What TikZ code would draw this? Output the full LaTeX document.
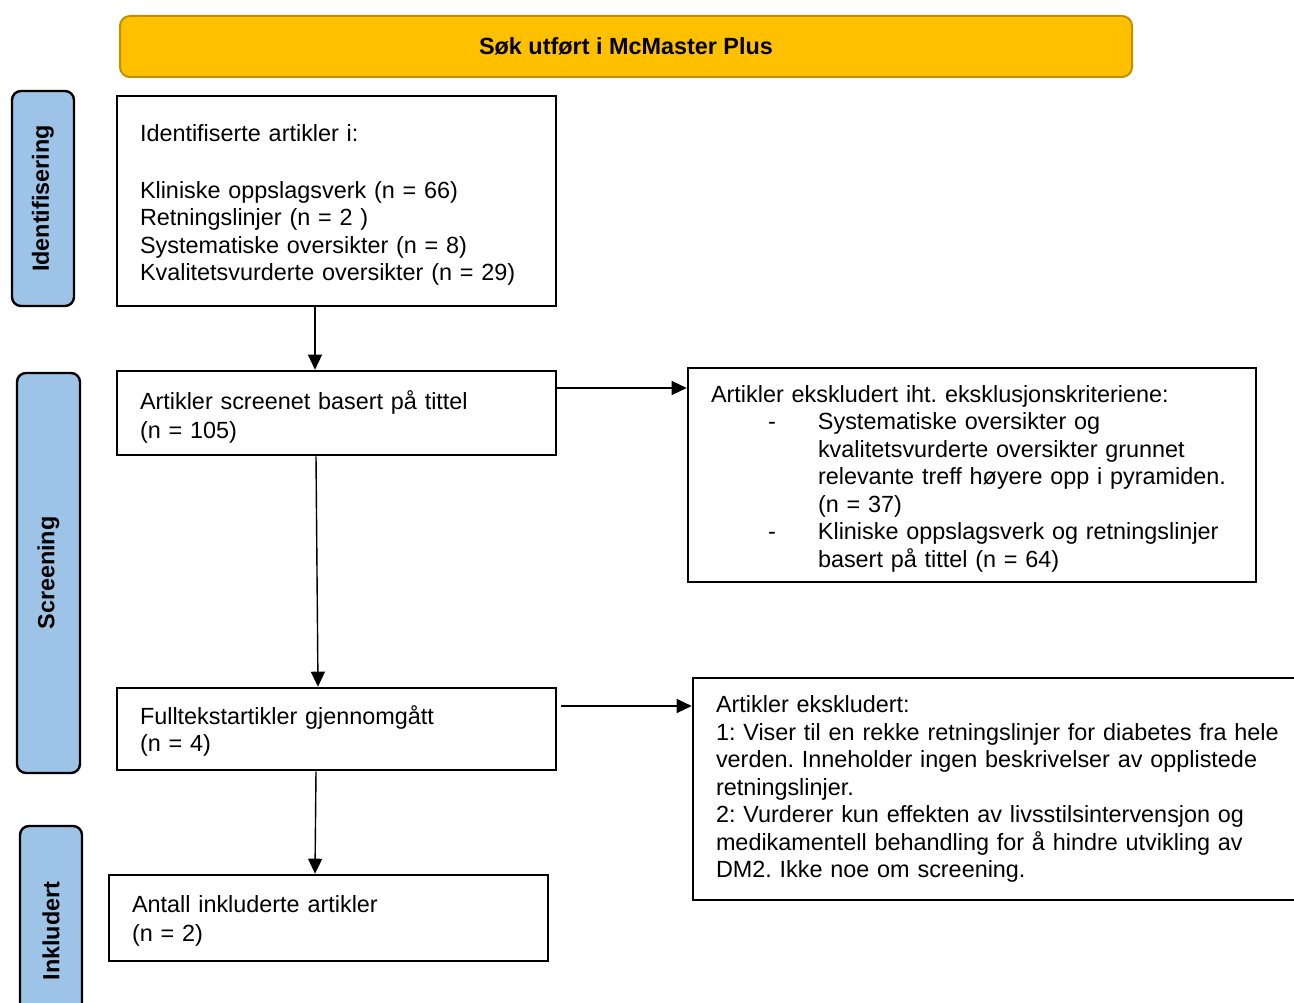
\documentclass[tikz,border=0pt]{standalone}
\usepackage{fontspec}
\setmainfont{Liberation Sans}
\usetikzlibrary{arrows.meta}
\frenchspacing
\definecolor{bannerfill}{HTML}{FFC000}
\definecolor{bannerline}{HTML}{C09000}
\definecolor{phasefill}{HTML}{9DC3E6}
\tikzset{
  txt/.style={font=\frenchspacing\fontsize{23.4}{27.5}\selectfont},
  flowbox/.style={txt, draw=black, line width=2.6pt, fill=white, align=left,
    inner xsep=23pt, inner ysep=0pt},
  phase/.style={draw=black, line width=2.4pt, fill=phasefill, rounded corners=9pt,
    rotate=90, font=\bfseries\fontsize{23.4}{27}\selectfont, inner sep=0pt},
  conn/.style={line width=1.4pt, -{Triangle[length=15pt,width=14pt]}},
}
\begin{document}
\begin{tikzpicture}[x=1pt,y=-1pt]
\useasboundingbox (0,0) rectangle (1294,1003);
% banner
\node[draw=bannerline, line width=2pt, fill=bannerfill, rounded corners=10pt,
  minimum width=1012pt, minimum height=61pt, inner sep=0pt,
  font=\bfseries\fontsize{23.4}{27}\selectfont] (top) at (626,46.5) {Søk utført i McMaster Plus};
% phase labels
\node[phase, minimum width=215pt, minimum height=62pt] (p1) at (43,198.5) {Identifisering};
\node[phase, minimum width=400pt, minimum height=63pt] (p2) at (48.5,573) {Screening};
\node[phase, minimum width=210pt, minimum height=62pt] (p3) at (51,931) {Inkludert};
% main boxes
\node[flowbox, text width=393pt, minimum height=210pt] (b1) at (336.5,201)
  {\rule{0pt}{25pt}Identifiserte artikler i:\\[29pt]Kliniske oppslagsverk (n = 66)\\Retningslinjer (n = 2 )\\Systematiske oversikter (n = 8)\\Kvalitetsvurderte oversikter (n = 29)};
\node[flowbox, text width=393pt, minimum height=84pt] (b2) at (336.5,413)
  {\rule{0pt}{26pt}Artikler screenet basert på tittel\\[1.5pt](n = 105)};
\node[flowbox, text width=393pt, minimum height=82pt] (b3) at (336.5,729)
  {\rule{0pt}{23pt}Fulltekstartikler gjennomgått\\(n = 4)};
\node[flowbox, text width=393pt, minimum height=86pt] (b4) at (328.5,918)
  {\rule{0pt}{23pt}Antall inkluderte artikler\\[1.5pt](n = 2)};
% right boxes
\node[flowbox, text width=522pt, minimum height=214pt] (r1) at (972,475)
  {\rule{0pt}{24pt}Artikler ekskludert iht. eksklusjonskriteriene:\\
   \makebox[107pt][l]{\hspace*{57pt}-}Systematiske oversikter og\\
   \hspace*{107pt}kvalitetsvurderte oversikter grunnet\\
   \hspace*{107pt}relevante treff høyere opp i pyramiden.\\
   \hspace*{107pt}(n = 37)\\
   \makebox[107pt][l]{\hspace*{57pt}-}Kliniske oppslagsverk og retningslinjer\\
   \hspace*{107pt}basert på tittel (n = 64)};
\node[flowbox, text width=590pt, minimum height=222pt] (r2) at (1011,789)
  {Artikler ekskludert:\\
   1: Viser til en rekke retningslinjer for diabetes fra hele\\
   verden. Inneholder ingen beskrivelser av opplistede\\
   retningslinjer.\\
   2: Vurderer kun effekten av livsstilsintervensjon og\\
   medikamentell behandling for å hindre utvikling av\\
   DM2. Ikke noe om screening.\par\vspace*{4pt}};
% connectors
\draw[conn] ([xshift=-21.5pt]b1.south) -- ([xshift=-21.5pt]b2.north);
\draw[conn] ([xshift=-20.5pt]b2.south) -- ([xshift=-18.5pt]b3.north);
\draw[conn] ([xshift=-20.5pt]b3.south) -- ([xshift=-13.5pt]b4.north);
\draw[conn] ([yshift=25pt]b2.east) -- ([yshift=25pt]b2.east -| r1.west);
\draw[conn] ([xshift=4pt,yshift=23pt]b3.east) -- ([yshift=23pt]b3.east -| r2.west);
\end{tikzpicture}
\end{document}
